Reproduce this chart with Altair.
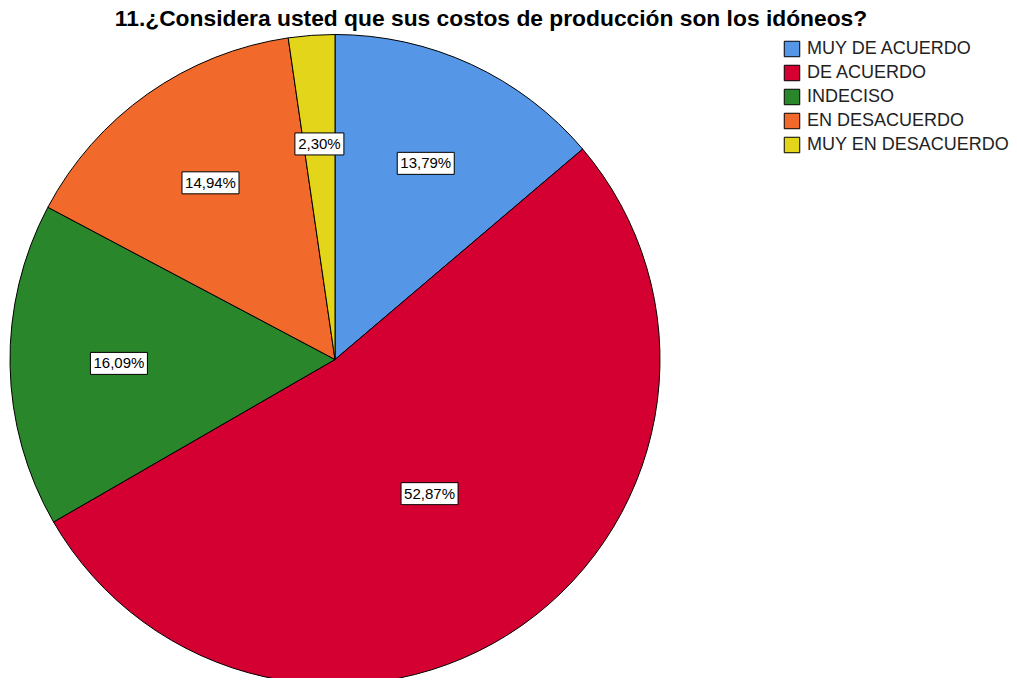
import altair as alt
import pandas as pd

title_text = "11.¿Considera usted que sus costos de producción son los idóneos?"
categories = ["MUY DE ACUERDO", "DE ACUERDO", "INDECISO", "EN DESACUERDO", "MUY EN DESACUERDO"]
percentages = [13.79, 52.87, 16.09, 14.94, 2.30]
labels = ["13,79%", "52,87%", "16,09%", "14,94%", "2,30%"]
colors = ["#5596E6", "#D50032", "#2A862A", "#F26A2B", "#E3D61A"]
order_idx = [0, 1, 2, 3, 4]

df = pd.DataFrame({"categoria": categories, "pct": percentages,
                   "etiqueta": labels, "orden": order_idx})
df_title = pd.DataFrame({"t": [title_text]})

CX, CY, R = 327, 351.5, 325
FONT = "Liberation Sans"

color_scale = alt.Scale(domain=categories, range=colors)

base = alt.Chart(df)

pie = base.mark_arc(stroke="black", strokeWidth=1, outerRadius=R).encode(
    theta=alt.Theta("pct:Q", stack=True),
    color=alt.Color("categoria:N", scale=color_scale, sort=categories,
                    legend=alt.Legend(title=None, orient="none", legendX=775, legendY=32,
                                      symbolType="square", symbolSize=240,
                                      symbolStrokeColor="black", symbolStrokeWidth=1,
                                      symbolOpacity=1, labelFontSize=18, labelFont=FONT,
                                      labelColor="#222222", labelOffset=6, rowPadding=4,
                                      labelLimit=300)),
    order=alt.Order("orden:Q"),
    x=alt.value(CX),
    y=alt.value(CY),
)

lab = (
    base.transform_window(cum="sum(pct)", sort=[alt.SortField("orden")], frame=[None, 0])
    .transform_joinaggregate(total="sum(pct)")
    .transform_calculate(mid="(datum.cum - datum.pct / 2) / datum.total * 2 * PI")
    .transform_calculate(lr=f"datum.pct > 50 ? {0.505 * R} : {0.665 * R}")
    .transform_calculate(px=f"{CX} + datum.lr * sin(datum.mid)",
                         py=f"{CY} - datum.lr * cos(datum.mid)")
    .transform_calculate(bw="8 * length(datum.etiqueta) + 9")
    .transform_calculate(x1="datum.px - datum.bw / 2", x2="datum.px + datum.bw / 2",
                         y1="datum.py - 11", y2="datum.py + 11")
)

boxes = lab.mark_rect(fill="white", stroke="black", strokeWidth=1).encode(
    x=alt.X("x1:Q", scale=None, axis=None),
    x2="x2:Q",
    y=alt.Y("y1:Q", scale=None, axis=None),
    y2="y2:Q",
)

texts = lab.mark_text(font=FONT, fontSize=15, color="black", baseline="middle", align="center").encode(
    x=alt.X("px:Q", scale=None, axis=None),
    y=alt.Y("py:Q", scale=None, axis=None),
    text="etiqueta:N",
)

title = alt.Chart(df_title).mark_text(
    font=FONT, fontSize=22.8, fontWeight="bold", color="black",
    align="center", baseline="alphabetic"
).encode(text="t:N", x=alt.value(483), y=alt.value(18))

chart = alt.layer(pie, boxes, texts, title).properties(
    width=1001,
    height=670,
    padding=0,
    autosize=alt.AutoSizeParams(type="none"),
).configure_view(stroke=None)

chart.save("out.html", embed_options={"renderer": "svg", "actions": False})
